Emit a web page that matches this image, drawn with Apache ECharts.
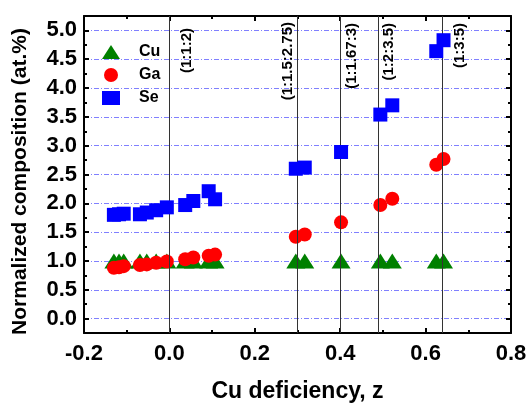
<!DOCTYPE html>
<html>
<head>
<meta charset="utf-8">
<script src="https://cdn.jsdelivr.net/npm/echarts@6/dist/echarts.min.js"></script>
<style>
    html, body { margin: 0; padding: 0; background: #fff; }
    #chart { width: 529px; height: 403px; }
</style>
</head>
<body>
<div id="chart"></div>
<script>
// Cu deficiency of each sample
const zValues = [-0.13, -0.118, -0.107, -0.069, -0.053, -0.031, -0.006, 0.037, 0.056, 0.092, 0.107, 0.296, 0.317, 0.402, 0.494, 0.522, 0.625, 0.642];
// normalized composition (at.%)
const cuValues = [1.0, 1.0, 1.0, 1.0, 1.0, 1.0, 1.0, 1.0, 1.0, 1.0, 1.0, 1.0, 1.0, 1.0, 1.0, 1.0, 1.0, 1.0];
const gaValues = [0.88, 0.89, 0.91, 0.93, 0.94, 0.97, 0.99, 1.03, 1.06, 1.09, 1.11, 1.42, 1.46, 1.67, 1.97, 2.08, 2.67, 2.77];
const seValues = [1.80, 1.81, 1.82, 1.81, 1.84, 1.88, 1.93, 1.97, 2.04, 2.21, 2.07, 2.60, 2.62, 2.89, 3.54, 3.70, 4.64, 4.83];
// reference compositions (Cu:Ga:Se)
const refZ = [0, 0.3, 0.4, 0.495, 0.64];
const refLabels = ['(1:1:2)', '(1:1.5:2.75)', '(1:1.67:3)', '(1:2:3.5)', '(1:3:5)'];

const FONT = 'Liberation Sans, Arial, sans-serif';
// which side of the line the label sits on, and how far
const refLabelSide = ['insideEndBottom', 'insideEndTop', 'insideEndBottom', 'insideEndBottom', 'insideEndBottom'];
const refLabelGap = [10, 2, 4, 3, 10];
const refLabelDrop = [12, 6, 7, 7, 7];

const toPairs = vals => zValues.map((z, i) => [z, vals[i]]);

const frameAxis = {
    axisLine: { show: true, onZero: false, lineStyle: { color: '#000', width: 2 } },
    axisTick: { show: true, inside: true, length: 5, lineStyle: { color: '#000', width: 2 } },
    minorTick: { show: true, splitNumber: 2, length: 3, lineStyle: { color: '#000', width: 2 } },
    splitLine: { show: false },
};

const xBase = { type: 'value', min: -0.2, max: 0.8, interval: 0.2 };
const yBase = { type: 'value', min: -0.25, max: 5.25, splitNumber: 10 };

const myChart = echarts.init(document.getElementById('chart'));
const option = {
    animation: false,
    backgroundColor: '#fff',
    grid: { left: 84, top: 16, right: 18, bottom: 70, outerBoundsMode: 'none' },
    legend: {
        orient: 'vertical',
        left: 97,
        top: 39,
        itemWidth: 18,
        itemHeight: 14,
        itemGap: 7,
        data: ['Cu', 'Ga', 'Se'],
        textStyle: { fontFamily: FONT, fontWeight: 'bold', fontSize: 16, color: '#000', padding: [0, 0, 0, 14] },
    },
    xAxis: [
        {
            ...xBase,
            ...frameAxis,
            position: 'bottom',
            name: 'Cu deficiency, z',
            nameLocation: 'middle',
            nameGap: 47,
            nameTextStyle: { fontFamily: FONT, fontWeight: 'bold', fontSize: 23, color: '#000' },
            axisLabel: {
                margin: 10,
                fontFamily: FONT, fontWeight: 'bold', fontSize: 22, color: '#000',
                formatter: v => v.toFixed(1),
            },
        },
        {
            ...xBase,
            ...frameAxis,
            position: 'top',
            axisLabel: { show: false },
        },
    ],
    yAxis: [
        {
            ...yBase,
            ...frameAxis,
            position: 'left',
            name: 'Normalized composition (at.%)',
            nameLocation: 'middle',
            nameGap: 53,
            nameTextStyle: { fontFamily: FONT, fontWeight: 'bold', fontSize: 21, color: '#000', padding: [0, 14, 0, 0] },
            axisLabel: {
                margin: 7,
                showMinLabel: false,
                showMaxLabel: false,
                fontFamily: FONT, fontWeight: 'bold', fontSize: 22, color: '#000',
                formatter: v => v.toFixed(1),
            },
            splitLine: {
                show: true,
                showMinLine: false,
                showMaxLine: false,
                lineStyle: { color: '#8080ff', width: 1, type: [5, 2, 1, 2] },
            },
        },
        {
            ...yBase,
            ...frameAxis,
            position: 'right',
            axisLabel: { show: false },
        },
    ],
    series: [
        {
            name: 'Cu',
            type: 'scatter',
            symbol: 'triangle',
            symbolSize: [19, 15],
            itemStyle: { color: '#008000', opacity: 1 },
            data: toPairs(cuValues),
            z: 3,
        },
        {
            name: 'Ga',
            type: 'scatter',
            symbol: 'circle',
            symbolSize: 14,
            itemStyle: { color: '#ff0000', opacity: 1 },
            data: toPairs(gaValues),
            z: 4,
        },
        {
            name: 'Se',
            type: 'scatter',
            symbol: 'rect',
            symbolSize: 14,
            itemStyle: { color: '#0000ff', opacity: 1 },
            data: toPairs(seValues),
            z: 5,
        },
        {
            name: 'ref',
            type: 'line',
            data: [],
            z: 2,
            markLine: {
                silent: true,
                symbol: 'none',
                animation: false,
                lineStyle: { color: '#333', width: 1, type: 'solid' },
                data: refZ.map((z, i) => ({
                    xAxis: z,
                    label: {
                        show: true,
                        formatter: refLabels[i],
                        position: refLabelSide[i],
                        distance: [refLabelDrop[i], refLabelGap[i]],
                        fontFamily: FONT,
                        fontWeight: 'bold',
                        fontSize: 15,
                        color: '#000',
                    },
                })),
            },
        },
    ],
};
myChart.setOption(option);
</script>
</body>
</html>
